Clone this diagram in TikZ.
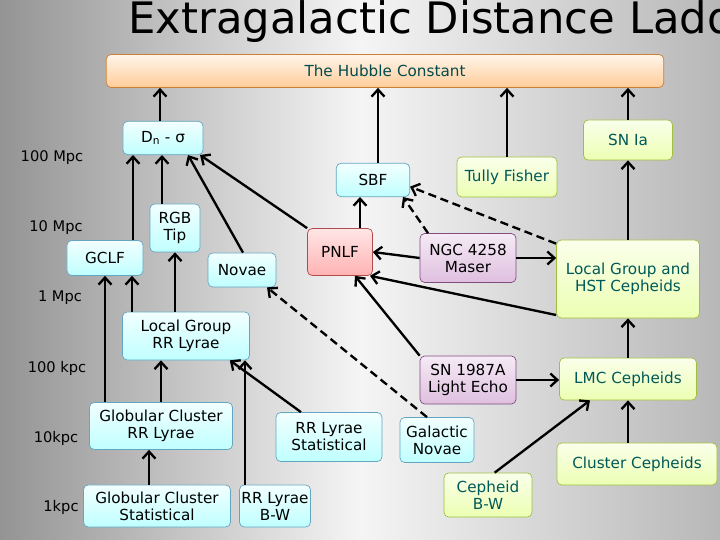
\documentclass[tikz,border=0pt]{standalone}
\usepackage{fontspec}
\setmainfont{DejaVu Sans}
\usetikzlibrary{arrows.meta}

\begin{document}
\begin{tikzpicture}[
    x=0.03cm, y=-0.03cm,
    box/.style={draw, rounded corners=4pt, line width=0.6pt, inner sep=1pt, align=center,
      font=\fontsize{13}{14.5}\selectfont},
    blue/.style={box, draw=cyan!50!gray, top color=cyan!5, bottom color=cyan!25},
    green/.style={box, draw=lime!50!gray, top color=lime!8, bottom color=lime!30, text=teal!70!black},
    purple/.style={box, draw=violet!40!gray, top color=violet!8, bottom color=violet!25},
    red/.style={box, draw=red!40!gray, top color=red!10, bottom color=red!30},
    scale label/.style={font=\fontsize{12.5}{13}\selectfont},
    link/.style={-{Straight Barb[length=6pt,width=11pt]}, line width=2pt},
    dlink/.style={link, dash pattern=on 7pt off 4pt}
  ]
  \useasboundingbox (0,0) rectangle (720,540);
  \shade[left color=black!42, right color=black!28, middle color=black!4] (0,0) rectangle (720,540);

  % Title
  \node[anchor=west, font=\fontsize{37}{40}\selectfont] (title) at (124,22) {Extragalactic Distance Ladder};

  % Scale
  \node[scale label] (s1) at (52,158) {100 Mpc};
  \node[scale label] (s2) at (56,228) {10 Mpc};
  \node[scale label] (s3) at (60,298) {1 Mpc};
  \node[scale label] (s4) at (57,368) {100 kpc};
  \node[scale label] (s5) at (56,438) {10kpc};
  \node[scale label] (s6) at (61,507) {1kpc};

  % Boxes
  \node[box, draw=orange!60!gray, top color=orange!8, bottom color=orange!40, text=teal!60!black,
    text width=555*0.03cm, minimum height=0.99cm] (hubble) at (385,71) {The Hubble Constant};
  \node[blue, minimum width=2.4cm, minimum height=1.0cm] (dn) at (163,138) {D\textsubscript{n} - σ};
  \node[blue, minimum width=2.2cm, minimum height=1.0cm] (sbf) at (373,180) {SBF};
  \node[green, minimum width=3.0cm, minimum height=1.2cm] (tully) at (507,177) {Tully Fisher};
  \node[green, minimum width=2.67cm, minimum height=1.2cm] (snia) at (628,140) {SN Ia};
  \node[blue, minimum width=1.5cm, minimum height=1.44cm] (rgb) at (175,228) {RGB\\Tip};
  \node[blue, minimum width=2.28cm, minimum height=1.05cm] (gclf) at (105,258) {GCLF};
  \node[blue, minimum width=2.04cm, minimum height=1.02cm] (novae) at (242,270) {Novae};
  \node[red, minimum width=1.95cm, minimum height=1.41cm] (pnlf) at (340,252) {PNLF};
  \node[purple, minimum width=2.88cm, minimum height=1.47cm] (ngc) at (468,258) {NGC 4258\\Maser};
  \node[green, minimum width=4.29cm, minimum height=2.34cm] (lghst) at (628,279) {Local Group and\\HST Cepheids};
  \node[blue, minimum width=3.81cm, minimum height=1.44cm] (lgrr) at (186,336) {Local Group\\RR Lyrae};
  \node[purple, minimum width=2.88cm, minimum height=1.44cm] (sn87) at (468,380) {SN 1987A\\Light Echo};
  \node[green, minimum width=4.11cm, minimum height=1.26cm] (lmc) at (628,379) {LMC Cepheids};
  \node[blue, minimum width=4.29cm, minimum height=1.41cm] (gcrr) at (161,426) {Globular Cluster\\RR Lyrae};
  \node[blue, minimum width=3.18cm, minimum height=1.47cm] (rrstat) at (329,437) {RR Lyrae\\Statistical};
  \node[blue, minimum width=2.22cm, minimum height=1.35cm] (galnovae) at (437,440) {Galactic\\Novae};
  \node[green, minimum width=4.8cm, minimum height=1.26cm] (clceph) at (637,464) {Cluster Cepheids};
  \node[green, minimum width=2.64cm, minimum height=1.32cm] (cephbw) at (488,495) {Cepheid\\B-W};
  \node[blue, minimum width=4.41cm, minimum height=1.26cm] (gcstat) at (157,506) {Globular Cluster\\Statistical};
  \node[blue, minimum width=2.13cm, minimum height=1.26cm] (rrbw) at (275,506) {RR Lyrae\\B-W};

  % Links to the Hubble constant
  \draw[link] ([xshift=-0.09cm]dn.north) -- ([xshift=-0.09cm]dn.north |- hubble.south);
  \draw[link] ([xshift=0.15cm]sbf.north) -- ([xshift=0.15cm]sbf.north |- hubble.south);
  \draw[link] (tully.north) -- (tully.north |- hubble.south);
  \draw[link] (snia.north) -- (snia.north |- hubble.south);

  % Links between methods
  \draw[link] ([xshift=0.84cm]gclf.north) -- ([xshift=0.84cm]gclf.north |- dn.south);
  \draw[link] ([xshift=-0.39cm]rgb.north) -- ([xshift=-0.39cm]rgb.north |- dn.south);
  \draw[link] ([xshift=0.03cm]novae.north) -- ([xshift=0.75cm]dn.south);
  \draw[link] (pnlf.north west) -- ([xshift=-0.1cm]dn.south east);
  \draw[link] ([xshift=0.6cm]pnlf.north) -- ([xshift=0.6cm]pnlf.north |- sbf.south);
  \draw[link] (ngc.west) -- (pnlf.east);
  \draw[link] (ngc.east) -- (ngc.east -| lghst.west);
  \draw[dlink] ([xshift=-1.2cm]ngc.north) -- ([xshift=0.9cm]sbf.south);
  \draw[dlink] ([yshift=-0.12cm]lghst.north west) -- ([yshift=-0.2cm]sbf.east);
  \draw[link] ([yshift=0.1cm]lghst.south west) -- ([xshift=0.9cm]pnlf.south);
  \draw[link] (lghst.north) -- (lghst.north |- snia.south);
  \draw[link] (sn87.north west) -- ([xshift=0.45cm]pnlf.south);
  \draw[link] (sn87.east) -- (sn87.east -| lmc.west);
  \draw[link] (lmc.north) -- (lmc.north |- lghst.south);
  \draw[link] (clceph.north -| lmc.north) -- (lmc.south);
  \draw[link] ([xshift=0.2cm]cephbw.north) -- ([xshift=-1.14cm]lmc.south);
  \draw[link] (gcrr.north -| gclf.south) -- (gclf.south);
  \draw[link] ([xshift=-1.62cm]lgrr.north) -- ([xshift=-1.62cm]lgrr.north |- gclf.south);
  \draw[link] (rgb.south |- lgrr.north) -- (rgb.south);
  \draw[link] (gcrr.north) -- (gcrr.north |- lgrr.south);
  \draw[link] ([xshift=-0.24cm]gcstat.north) -- ([xshift=-0.24cm]gcstat.north |- gcrr.south);
  \draw[link] ([xshift=-0.9cm]rrbw.north) -- ([xshift=-0.9cm]rrbw.north |- lgrr.south);
  \draw[link] ([xshift=-0.84cm]rrstat.north) -- ([xshift=-0.6cm]lgrr.south east);
  \draw[dlink] ([xshift=-0.3cm]galnovae.north) -- ([xshift=0.75cm]novae.south);
\end{tikzpicture}
\end{document}
